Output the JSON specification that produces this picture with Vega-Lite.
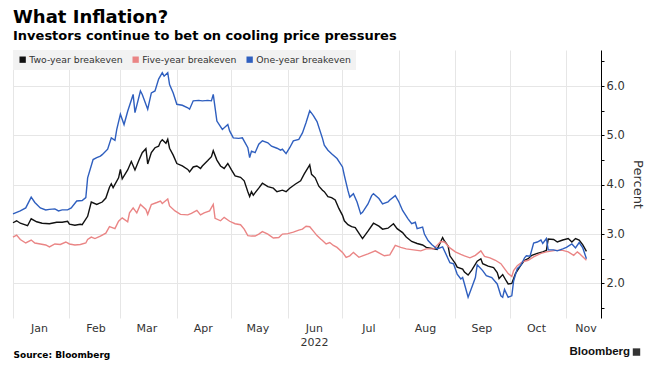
{
  "$schema": "https://vega.github.io/schema/vega-lite/v6.json",
  "width": 588,
  "height": 268,
  "autosize": {"type": "none"},
  "padding": {"left": 13, "top": 50, "right": 58, "bottom": 56},
  "background": "white",
  "config": {"view": {"stroke": null}, "font": "DejaVu Sans"},
  "title": {
    "text": "What Inflation?",
    "subtitle": "Investors continue to bet on cooling price pressures",
    "anchor": "start",
    "frame": "group",
    "font": "DejaVu Sans",
    "fontSize": 18,
    "fontWeight": "bold",
    "color": "#000000",
    "subtitleFont": "DejaVu Sans",
    "subtitleFontSize": 13,
    "subtitleFontWeight": "bold",
    "subtitleColor": "#000000",
    "subtitlePadding": 3,
    "offset": 7
  },
  "resolve": {"scale": {"y": "independent"}, "axis": {"y": "independent"}},
  "datasets": {
    "two": [
      {"date": "2022-01-01", "value": 3.23}, {"date": "2022-01-03", "value": 3.27}, {"date": "2022-01-05", "value": 3.22}, {"date": "2022-01-09", "value": 3.17}, {"date": "2022-01-11", "value": 3.31}, {"date": "2022-01-14", "value": 3.25}, {"date": "2022-01-17", "value": 3.22}, {"date": "2022-01-21", "value": 3.21}, {"date": "2022-01-25", "value": 3.24}, {"date": "2022-01-28", "value": 3.24}, {"date": "2022-01-31", "value": 3.26},
      {"date": "2022-02-01", "value": 3.20}, {"date": "2022-02-04", "value": 3.18}, {"date": "2022-02-07", "value": 3.20}, {"date": "2022-02-08", "value": 3.19}, {"date": "2022-02-11", "value": 3.36}, {"date": "2022-02-13", "value": 3.65}, {"date": "2022-02-16", "value": 3.60}, {"date": "2022-02-19", "value": 3.65}, {"date": "2022-02-21", "value": 3.73}, {"date": "2022-02-23", "value": 3.95}, {"date": "2022-02-24", "value": 4.02}, {"date": "2022-02-25", "value": 3.94}, {"date": "2022-02-28", "value": 4.14},
      {"date": "2022-03-01", "value": 4.31}, {"date": "2022-03-02", "value": 4.12}, {"date": "2022-03-05", "value": 4.30}, {"date": "2022-03-07", "value": 4.47}, {"date": "2022-03-09", "value": 4.30}, {"date": "2022-03-11", "value": 4.48}, {"date": "2022-03-13", "value": 4.65}, {"date": "2022-03-15", "value": 4.73}, {"date": "2022-03-16", "value": 4.42}, {"date": "2022-03-18", "value": 4.65}, {"date": "2022-03-20", "value": 4.75}, {"date": "2022-03-22", "value": 4.78}, {"date": "2022-03-23", "value": 4.87}, {"date": "2022-03-24", "value": 4.91}, {"date": "2022-03-26", "value": 4.84}, {"date": "2022-03-27", "value": 4.92}, {"date": "2022-03-28", "value": 4.74}, {"date": "2022-03-30", "value": 4.60},
      {"date": "2022-04-01", "value": 4.43}, {"date": "2022-04-04", "value": 4.38}, {"date": "2022-04-07", "value": 4.31}, {"date": "2022-04-08", "value": 4.26}, {"date": "2022-04-10", "value": 4.36}, {"date": "2022-04-12", "value": 4.38}, {"date": "2022-04-14", "value": 4.33}, {"date": "2022-04-15", "value": 4.38}, {"date": "2022-04-18", "value": 4.49}, {"date": "2022-04-20", "value": 4.57}, {"date": "2022-04-21", "value": 4.69}, {"date": "2022-04-23", "value": 4.50}, {"date": "2022-04-25", "value": 4.38}, {"date": "2022-04-27", "value": 4.33}, {"date": "2022-04-29", "value": 4.43},
      {"date": "2022-05-01", "value": 4.30}, {"date": "2022-05-03", "value": 4.18}, {"date": "2022-05-06", "value": 4.15}, {"date": "2022-05-08", "value": 4.08}, {"date": "2022-05-10", "value": 3.86}, {"date": "2022-05-11", "value": 3.76}, {"date": "2022-05-12", "value": 3.86}, {"date": "2022-05-13", "value": 3.79}, {"date": "2022-05-16", "value": 3.93}, {"date": "2022-05-18", "value": 4.03}, {"date": "2022-05-21", "value": 3.96}, {"date": "2022-05-24", "value": 3.93}, {"date": "2022-05-26", "value": 3.86}, {"date": "2022-05-29", "value": 3.89}, {"date": "2022-05-31", "value": 3.86},
      {"date": "2022-06-02", "value": 3.93}, {"date": "2022-06-05", "value": 4.01}, {"date": "2022-06-08", "value": 4.08}, {"date": "2022-06-10", "value": 4.22}, {"date": "2022-06-13", "value": 4.40}, {"date": "2022-06-14", "value": 4.21}, {"date": "2022-06-16", "value": 4.14}, {"date": "2022-06-18", "value": 3.97}, {"date": "2022-06-20", "value": 3.89}, {"date": "2022-06-21", "value": 3.86}, {"date": "2022-06-23", "value": 3.76}, {"date": "2022-06-25", "value": 3.74}, {"date": "2022-06-27", "value": 3.69}, {"date": "2022-06-29", "value": 3.52},
      {"date": "2022-07-01", "value": 3.38}, {"date": "2022-07-02", "value": 3.27}, {"date": "2022-07-04", "value": 3.19}, {"date": "2022-07-06", "value": 3.15}, {"date": "2022-07-08", "value": 3.13}, {"date": "2022-07-10", "value": 3.02}, {"date": "2022-07-12", "value": 2.91}, {"date": "2022-07-13", "value": 2.96}, {"date": "2022-07-15", "value": 3.06}, {"date": "2022-07-18", "value": 3.22}, {"date": "2022-07-21", "value": 3.16}, {"date": "2022-07-23", "value": 3.10}, {"date": "2022-07-26", "value": 3.12}, {"date": "2022-07-29", "value": 3.21}, {"date": "2022-07-31", "value": 3.11},
      {"date": "2022-08-03", "value": 3.03}, {"date": "2022-08-05", "value": 2.94}, {"date": "2022-08-08", "value": 2.85}, {"date": "2022-08-11", "value": 2.81}, {"date": "2022-08-14", "value": 2.78}, {"date": "2022-08-16", "value": 2.73}, {"date": "2022-08-19", "value": 2.71}, {"date": "2022-08-22", "value": 2.69}, {"date": "2022-08-25", "value": 2.93}, {"date": "2022-08-26", "value": 2.86}, {"date": "2022-08-28", "value": 2.76}, {"date": "2022-08-29", "value": 2.56},
      {"date": "2022-09-01", "value": 2.40}, {"date": "2022-09-02", "value": 2.33}, {"date": "2022-09-05", "value": 2.29}, {"date": "2022-09-06", "value": 2.23}, {"date": "2022-09-08", "value": 2.17}, {"date": "2022-09-10", "value": 2.27}, {"date": "2022-09-13", "value": 2.45}, {"date": "2022-09-15", "value": 2.50}, {"date": "2022-09-16", "value": 2.40}, {"date": "2022-09-19", "value": 2.35}, {"date": "2022-09-22", "value": 2.32}, {"date": "2022-09-24", "value": 2.22}, {"date": "2022-09-25", "value": 2.10}, {"date": "2022-09-27", "value": 2.18}, {"date": "2022-09-29", "value": 2.05}, {"date": "2022-09-30", "value": 1.99},
      {"date": "2022-10-02", "value": 2.00}, {"date": "2022-10-04", "value": 2.20}, {"date": "2022-10-07", "value": 2.37}, {"date": "2022-10-09", "value": 2.47}, {"date": "2022-10-11", "value": 2.50}, {"date": "2022-10-13", "value": 2.57}, {"date": "2022-10-16", "value": 2.61}, {"date": "2022-10-19", "value": 2.64}, {"date": "2022-10-21", "value": 2.67}, {"date": "2022-10-22", "value": 2.90}, {"date": "2022-10-25", "value": 2.89}, {"date": "2022-10-27", "value": 2.84}, {"date": "2022-10-30", "value": 2.88},
      {"date": "2022-11-02", "value": 2.91}, {"date": "2022-11-04", "value": 2.84}, {"date": "2022-11-06", "value": 2.91}, {"date": "2022-11-08", "value": 2.88}, {"date": "2022-11-10", "value": 2.78}, {"date": "2022-11-12", "value": 2.65}
    ],
    "five": [
      {"date": "2022-01-01", "value": 2.94}, {"date": "2022-01-03", "value": 2.98}, {"date": "2022-01-05", "value": 2.89}, {"date": "2022-01-08", "value": 2.82}, {"date": "2022-01-11", "value": 2.88}, {"date": "2022-01-13", "value": 2.82}, {"date": "2022-01-16", "value": 2.80}, {"date": "2022-01-19", "value": 2.78}, {"date": "2022-01-21", "value": 2.74}, {"date": "2022-01-24", "value": 2.80}, {"date": "2022-01-27", "value": 2.79}, {"date": "2022-01-30", "value": 2.84},
      {"date": "2022-02-01", "value": 2.80}, {"date": "2022-02-04", "value": 2.78}, {"date": "2022-02-07", "value": 2.79}, {"date": "2022-02-10", "value": 2.82}, {"date": "2022-02-11", "value": 2.89}, {"date": "2022-02-13", "value": 2.94}, {"date": "2022-02-15", "value": 2.91}, {"date": "2022-02-18", "value": 2.96}, {"date": "2022-02-21", "value": 3.02}, {"date": "2022-02-23", "value": 3.15}, {"date": "2022-02-26", "value": 3.11}, {"date": "2022-02-28", "value": 3.26},
      {"date": "2022-03-02", "value": 3.33}, {"date": "2022-03-05", "value": 3.25}, {"date": "2022-03-06", "value": 3.43}, {"date": "2022-03-08", "value": 3.53}, {"date": "2022-03-10", "value": 3.43}, {"date": "2022-03-12", "value": 3.60}, {"date": "2022-03-15", "value": 3.50}, {"date": "2022-03-16", "value": 3.40}, {"date": "2022-03-18", "value": 3.60}, {"date": "2022-03-21", "value": 3.64}, {"date": "2022-03-23", "value": 3.67}, {"date": "2022-03-24", "value": 3.62}, {"date": "2022-03-27", "value": 3.71}, {"date": "2022-03-28", "value": 3.57}, {"date": "2022-03-31", "value": 3.47},
      {"date": "2022-04-03", "value": 3.40}, {"date": "2022-04-07", "value": 3.39}, {"date": "2022-04-09", "value": 3.42}, {"date": "2022-04-12", "value": 3.48}, {"date": "2022-04-14", "value": 3.39}, {"date": "2022-04-16", "value": 3.43}, {"date": "2022-04-19", "value": 3.47}, {"date": "2022-04-21", "value": 3.60}, {"date": "2022-04-22", "value": 3.32}, {"date": "2022-04-25", "value": 3.27}, {"date": "2022-04-27", "value": 3.34}, {"date": "2022-04-30", "value": 3.26},
      {"date": "2022-05-03", "value": 3.21}, {"date": "2022-05-06", "value": 3.19}, {"date": "2022-05-08", "value": 3.10}, {"date": "2022-05-10", "value": 2.97}, {"date": "2022-05-12", "value": 2.96}, {"date": "2022-05-14", "value": 2.96}, {"date": "2022-05-16", "value": 3.00}, {"date": "2022-05-18", "value": 3.05}, {"date": "2022-05-21", "value": 3.00}, {"date": "2022-05-24", "value": 2.92}, {"date": "2022-05-27", "value": 2.93}, {"date": "2022-05-29", "value": 3.00},
      {"date": "2022-06-01", "value": 3.01}, {"date": "2022-06-04", "value": 3.04}, {"date": "2022-06-07", "value": 3.08}, {"date": "2022-06-09", "value": 3.10}, {"date": "2022-06-11", "value": 3.16}, {"date": "2022-06-13", "value": 3.15}, {"date": "2022-06-15", "value": 3.06}, {"date": "2022-06-17", "value": 2.97}, {"date": "2022-06-19", "value": 2.90}, {"date": "2022-06-20", "value": 2.87}, {"date": "2022-06-22", "value": 2.80}, {"date": "2022-06-24", "value": 2.83}, {"date": "2022-06-26", "value": 2.77}, {"date": "2022-06-28", "value": 2.73},
      {"date": "2022-07-01", "value": 2.63}, {"date": "2022-07-03", "value": 2.53}, {"date": "2022-07-05", "value": 2.56}, {"date": "2022-07-07", "value": 2.63}, {"date": "2022-07-10", "value": 2.53}, {"date": "2022-07-12", "value": 2.56}, {"date": "2022-07-15", "value": 2.60}, {"date": "2022-07-17", "value": 2.63}, {"date": "2022-07-19", "value": 2.66}, {"date": "2022-07-22", "value": 2.60}, {"date": "2022-07-24", "value": 2.56}, {"date": "2022-07-27", "value": 2.58}, {"date": "2022-07-30", "value": 2.77},
      {"date": "2022-08-02", "value": 2.73}, {"date": "2022-08-05", "value": 2.70}, {"date": "2022-08-09", "value": 2.68}, {"date": "2022-08-13", "value": 2.66}, {"date": "2022-08-16", "value": 2.70}, {"date": "2022-08-20", "value": 2.70}, {"date": "2022-08-24", "value": 2.85}, {"date": "2022-08-26", "value": 2.84}, {"date": "2022-08-29", "value": 2.72},
      {"date": "2022-09-01", "value": 2.64}, {"date": "2022-09-04", "value": 2.59}, {"date": "2022-09-06", "value": 2.56}, {"date": "2022-09-09", "value": 2.52}, {"date": "2022-09-12", "value": 2.57}, {"date": "2022-09-15", "value": 2.66}, {"date": "2022-09-17", "value": 2.55}, {"date": "2022-09-20", "value": 2.52}, {"date": "2022-09-23", "value": 2.47}, {"date": "2022-09-26", "value": 2.40}, {"date": "2022-09-28", "value": 2.30}, {"date": "2022-09-30", "value": 2.20},
      {"date": "2022-10-02", "value": 2.14}, {"date": "2022-10-03", "value": 2.26}, {"date": "2022-10-05", "value": 2.36}, {"date": "2022-10-08", "value": 2.44}, {"date": "2022-10-11", "value": 2.47}, {"date": "2022-10-14", "value": 2.54}, {"date": "2022-10-18", "value": 2.61}, {"date": "2022-10-21", "value": 2.64}, {"date": "2022-10-26", "value": 2.67}, {"date": "2022-10-30", "value": 2.67},
      {"date": "2022-11-02", "value": 2.64}, {"date": "2022-11-05", "value": 2.57}, {"date": "2022-11-07", "value": 2.64}, {"date": "2022-11-08", "value": 2.61}, {"date": "2022-11-12", "value": 2.47}
    ],
    "one": [
      {"date": "2022-01-01", "value": 3.41}, {"date": "2022-01-05", "value": 3.47}, {"date": "2022-01-08", "value": 3.53}, {"date": "2022-01-11", "value": 3.75}, {"date": "2022-01-13", "value": 3.64}, {"date": "2022-01-16", "value": 3.53}, {"date": "2022-01-19", "value": 3.49}, {"date": "2022-01-21", "value": 3.50}, {"date": "2022-01-24", "value": 3.51}, {"date": "2022-01-26", "value": 3.47}, {"date": "2022-01-28", "value": 3.49}, {"date": "2022-01-31", "value": 3.49},
      {"date": "2022-02-02", "value": 3.53}, {"date": "2022-02-05", "value": 3.67}, {"date": "2022-02-08", "value": 3.68}, {"date": "2022-02-10", "value": 3.74}, {"date": "2022-02-11", "value": 4.14}, {"date": "2022-02-14", "value": 4.51}, {"date": "2022-02-16", "value": 4.55}, {"date": "2022-02-18", "value": 4.58}, {"date": "2022-02-19", "value": 4.61}, {"date": "2022-02-22", "value": 4.72}, {"date": "2022-02-24", "value": 4.95}, {"date": "2022-02-26", "value": 4.90}, {"date": "2022-02-27", "value": 5.12},
      {"date": "2022-03-01", "value": 5.43}, {"date": "2022-03-03", "value": 5.22}, {"date": "2022-03-05", "value": 5.49}, {"date": "2022-03-08", "value": 5.83}, {"date": "2022-03-09", "value": 5.46}, {"date": "2022-03-12", "value": 5.90}, {"date": "2022-03-13", "value": 5.83}, {"date": "2022-03-16", "value": 5.53}, {"date": "2022-03-18", "value": 5.86}, {"date": "2022-03-20", "value": 5.90}, {"date": "2022-03-22", "value": 6.14}, {"date": "2022-03-24", "value": 6.27}, {"date": "2022-03-25", "value": 6.20}, {"date": "2022-03-27", "value": 6.27}, {"date": "2022-03-28", "value": 6.03}, {"date": "2022-03-30", "value": 5.86},
      {"date": "2022-04-01", "value": 5.63}, {"date": "2022-04-04", "value": 5.61}, {"date": "2022-04-07", "value": 5.56}, {"date": "2022-04-08", "value": 5.53}, {"date": "2022-04-10", "value": 5.70}, {"date": "2022-04-13", "value": 5.71}, {"date": "2022-04-15", "value": 5.70}, {"date": "2022-04-18", "value": 5.71}, {"date": "2022-04-20", "value": 5.70}, {"date": "2022-04-21", "value": 5.83}, {"date": "2022-04-23", "value": 5.29}, {"date": "2022-04-26", "value": 5.12}, {"date": "2022-04-29", "value": 5.22}, {"date": "2022-04-30", "value": 5.09},
      {"date": "2022-05-02", "value": 4.95}, {"date": "2022-05-05", "value": 4.94}, {"date": "2022-05-07", "value": 4.95}, {"date": "2022-05-10", "value": 4.75}, {"date": "2022-05-11", "value": 4.55}, {"date": "2022-05-12", "value": 4.68}, {"date": "2022-05-14", "value": 4.65}, {"date": "2022-05-16", "value": 4.82}, {"date": "2022-05-18", "value": 4.89}, {"date": "2022-05-21", "value": 4.85}, {"date": "2022-05-23", "value": 4.78}, {"date": "2022-05-26", "value": 4.74}, {"date": "2022-05-28", "value": 4.70}, {"date": "2022-05-29", "value": 4.72}, {"date": "2022-05-31", "value": 4.63},
      {"date": "2022-06-02", "value": 4.75}, {"date": "2022-06-04", "value": 4.89}, {"date": "2022-06-07", "value": 4.92}, {"date": "2022-06-09", "value": 5.05}, {"date": "2022-06-11", "value": 5.26}, {"date": "2022-06-13", "value": 5.50}, {"date": "2022-06-15", "value": 5.40}, {"date": "2022-06-17", "value": 5.28}, {"date": "2022-06-20", "value": 4.94}, {"date": "2022-06-21", "value": 4.80}, {"date": "2022-06-23", "value": 4.70}, {"date": "2022-06-25", "value": 4.63}, {"date": "2022-06-28", "value": 4.53},
      {"date": "2022-07-01", "value": 4.36}, {"date": "2022-07-02", "value": 4.19}, {"date": "2022-07-04", "value": 3.88}, {"date": "2022-07-05", "value": 3.75}, {"date": "2022-07-07", "value": 3.82}, {"date": "2022-07-09", "value": 3.65}, {"date": "2022-07-11", "value": 3.41}, {"date": "2022-07-12", "value": 3.44}, {"date": "2022-07-15", "value": 3.61}, {"date": "2022-07-17", "value": 3.78}, {"date": "2022-07-18", "value": 3.82}, {"date": "2022-07-21", "value": 3.72}, {"date": "2022-07-23", "value": 3.61}, {"date": "2022-07-26", "value": 3.65}, {"date": "2022-07-27", "value": 3.69}, {"date": "2022-07-30", "value": 3.78},
      {"date": "2022-08-01", "value": 3.65}, {"date": "2022-08-03", "value": 3.48}, {"date": "2022-08-06", "value": 3.31}, {"date": "2022-08-08", "value": 3.21}, {"date": "2022-08-10", "value": 3.24}, {"date": "2022-08-11", "value": 3.11}, {"date": "2022-08-14", "value": 3.14}, {"date": "2022-08-15", "value": 3.00}, {"date": "2022-08-17", "value": 2.87}, {"date": "2022-08-19", "value": 2.79}, {"date": "2022-08-21", "value": 2.73}, {"date": "2022-08-22", "value": 2.70}, {"date": "2022-08-25", "value": 2.74}, {"date": "2022-08-27", "value": 2.58}, {"date": "2022-08-29", "value": 2.42}, {"date": "2022-08-31", "value": 2.40},
      {"date": "2022-09-02", "value": 2.19}, {"date": "2022-09-04", "value": 2.09}, {"date": "2022-09-05", "value": 2.12}, {"date": "2022-09-06", "value": 1.99}, {"date": "2022-09-08", "value": 1.72}, {"date": "2022-09-10", "value": 1.92}, {"date": "2022-09-12", "value": 2.12}, {"date": "2022-09-13", "value": 2.38}, {"date": "2022-09-16", "value": 2.26}, {"date": "2022-09-18", "value": 2.16}, {"date": "2022-09-21", "value": 2.12}, {"date": "2022-09-24", "value": 1.99}, {"date": "2022-09-26", "value": 1.75}, {"date": "2022-09-27", "value": 1.72}, {"date": "2022-09-28", "value": 1.88}, {"date": "2022-09-30", "value": 1.72},
      {"date": "2022-10-02", "value": 1.75}, {"date": "2022-10-03", "value": 2.05}, {"date": "2022-10-05", "value": 2.30}, {"date": "2022-10-07", "value": 2.37}, {"date": "2022-10-09", "value": 2.52}, {"date": "2022-10-10", "value": 2.56}, {"date": "2022-10-12", "value": 2.55}, {"date": "2022-10-14", "value": 2.82}, {"date": "2022-10-16", "value": 2.84}, {"date": "2022-10-18", "value": 2.88}, {"date": "2022-10-19", "value": 2.81}, {"date": "2022-10-21", "value": 2.91}, {"date": "2022-10-22", "value": 2.68}, {"date": "2022-10-25", "value": 2.68}, {"date": "2022-10-27", "value": 2.66}, {"date": "2022-10-30", "value": 2.70},
      {"date": "2022-11-01", "value": 2.73}, {"date": "2022-11-04", "value": 2.80}, {"date": "2022-11-06", "value": 2.72}, {"date": "2022-11-08", "value": 2.83}, {"date": "2022-11-10", "value": 2.72}, {"date": "2022-11-12", "value": 2.50}
    ],
    "credit": [{"label": "Bloomberg"}]
  },
  "layer": [
    {
      "encoding": {
        "x": {
          "field": "date",
          "type": "temporal",
          "scale": {"domain": [{"year": 2022, "month": 1, "date": 1}, {"year": 2022, "month": 11, "date": 20}]},
          "axis": {
            "values": [
              {"year": 2022, "month": 1, "date": 1}, {"year": 2022, "month": 2, "date": 1}, {"year": 2022, "month": 3, "date": 1},
              {"year": 2022, "month": 4, "date": 1}, {"year": 2022, "month": 5, "date": 1}, {"year": 2022, "month": 6, "date": 1},
              {"year": 2022, "month": 7, "date": 1}, {"year": 2022, "month": 8, "date": 1}, {"year": 2022, "month": 9, "date": 1},
              {"year": 2022, "month": 10, "date": 1}, {"year": 2022, "month": 11, "date": 1}
            ],
            "labelExpr": "month(datum.value) == 5 ? ['Jun', '2022'] : timeFormat(datum.value, '%b')",
            "labelOffset": {"condition": {"test": "month(datum.value) == 10", "value": 19}, "value": 26},
            "labelAlign": "center",
            "labelBaseline": "top",
            "labelFont": "DejaVu Sans",
            "labelFontSize": 11,
            "labelColor": "#333333",
            "labelPadding": 4,
            "labelLineHeight": 14,
            "labelFlush": false,
            "labelOverlap": false,
            "ticks": false,
            "domain": false,
            "grid": true,
            "gridColor": "#e6e6e6",
            "title": "Source: Bloomberg",
            "titleAnchor": "start",
            "titleAlign": "left",
            "titleFont": "DejaVu Sans",
            "titleFontSize": 9,
            "titleFontWeight": "bold",
            "titleColor": "#000000",
            "titlePadding": 3
          }
        },
        "y": {
          "field": "value",
          "type": "quantitative",
          "scale": {"domain": [1.3, 6.73], "nice": false, "zero": false},
          "axis": {
            "orient": "right",
            "values": [1.5, 2, 2.5, 3, 3.5, 4, 4.5, 5, 5.5, 6, 6.5],
            "labelExpr": "datum.value % 1 == 0 ? format(datum.value, '.1f') : ''",
            "gridOpacity": {"condition": {"test": "datum.value % 1 != 0", "value": 0}, "value": 1},
            "grid": true,
            "gridColor": "#e6e6e6",
            "domainColor": "#000000",
            "tickColor": "#000000",
            "tickSize": 3,
            "labelPadding": 2,
            "labelFont": "DejaVu Sans",
            "labelFontSize": 11.5,
            "labelColor": "#333333",
            "labelFlush": false,
            "title": "Percent",
            "titleAngle": 90,
            "titleFont": "DejaVu Sans",
            "titleFontSize": 13,
            "titleFontWeight": "normal",
            "titleColor": "#333333",
            "titlePadding": 6
          }
        }
      },
      "layer": [
        {
          "data": {"name": "two"},
          "mark": {"type": "line", "strokeWidth": 1.4},
          "encoding": {
            "color": {
              "datum": "Two-year breakeven",
              "scale": {
                "domain": ["Two-year breakeven", "Five-year breakeven", "One-year breakeven"],
                "range": ["#111111", "#ea8585", "#2f5fbf"]
              },
              "legend": {
                "orient": "none",
                "legendX": 0,
                "legendY": 0,
                "direction": "horizontal",
                "title": null,
                "symbolType": "square",
                "symbolSize": 40,
                "symbolStrokeWidth": 0,
                "labelFont": "DejaVu Sans",
                "labelFontSize": 9.3,
                "labelColor": "#333333",
                "labelOffset": 2,
                "fillColor": "#f2f2f2",
                "padding": 5,
                "columnPadding": 8,
                "encode": {"symbols": {"update": {"fill": {"scale": "color", "field": "value"}, "fillOpacity": {"value": 1}}}}
              }
            }
          }
        },
        {
          "data": {"name": "five"},
          "mark": {"type": "line", "strokeWidth": 1.4},
          "encoding": {"color": {"datum": "Five-year breakeven"}}
        },
        {
          "data": {"name": "one"},
          "mark": {"type": "line", "strokeWidth": 1.4},
          "encoding": {"color": {"datum": "One-year breakeven"}}
        }
      ]
    },
    {
      "data": {"name": "credit"},
      "mark": {"type": "text", "clip": false, "align": "right", "baseline": "middle", "font": "Liberation Sans", "fontWeight": "bold", "fontSize": 11.5, "color": "#111111"},
      "encoding": {
        "x": {"datum": {"year": 2022, "month": 12, "date": 6}, "type": "temporal"},
        "y": {"datum": 0.61, "type": "quantitative", "scale": {"domain": [1.3, 6.73], "nice": false, "zero": false}, "axis": null},
        "text": {"field": "label", "type": "nominal"}
      }
    },
    {
      "data": {"name": "credit"},
      "mark": {"type": "square", "clip": false, "size": 55, "color": "#333333", "filled": true, "opacity": 1},
      "encoding": {
        "x": {"datum": {"year": 2022, "month": 12, "date": 9, "hours": 12}, "type": "temporal"},
        "y": {"datum": 0.61, "type": "quantitative", "scale": {"domain": [1.3, 6.73], "nice": false, "zero": false}, "axis": null}
      }
    }
  ]
}
